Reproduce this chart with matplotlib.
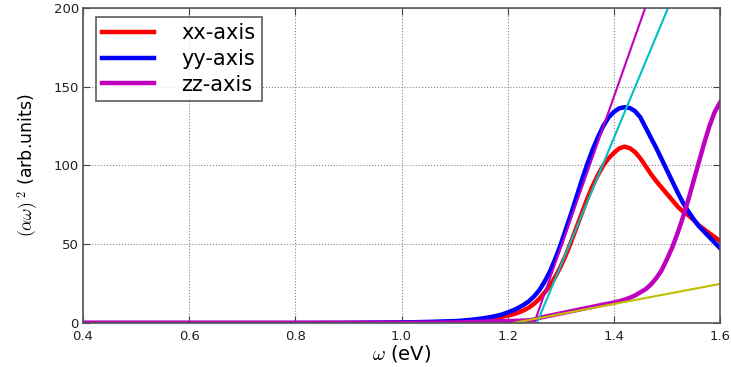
import matplotlib
matplotlib.use('Agg')
import matplotlib.pyplot as plt

plt.rcParams['mathtext.fontset'] = 'cm'

# photon energy grid (eV): coarse in the flat part, 0.01 eV steps from 1.10 to 1.60
energy = [0.4, 0.6, 0.8, 0.9, 1.0, 1.05] + [round(1.10 + 0.01 * i, 2) for i in range(51)]

# (alpha*omega)^2 for each polarization
xx = [0, 0, 0, 0.05, 0.2, 0.4,
      0.7, 0.9, 1.1, 1.3, 1.6, 2.0, 2.4, 2.9, 3.4, 4.0,
      4.7, 5.5, 6.6, 8.0, 9.8, 12.3, 15.5, 19.5, 24, 29.5,
      36, 43.5, 52, 61, 70, 79, 87, 94, 100, 104.5,
      108, 110.8, 112, 111, 108.5, 104.5, 99.5, 94.5, 90, 86,
      82, 78, 74, 70.8, 68.5, 65.5, 62, 59.5, 57, 54.5,
      52]
yy = [0, 0, 0, 0.1, 0.35, 0.7,
      1.2, 1.4, 1.7, 2.0, 2.4, 2.8, 3.3, 3.9, 4.6, 5.5,
      6.7, 8.0, 9.6, 11.5, 13.8, 17, 21, 26.5, 33, 41,
      50, 60, 70, 80.5, 91, 101, 110, 118, 125, 130.5,
      134, 136.3, 137, 136.5, 134.5, 130.5, 124, 117.5, 111, 104,
      97, 90, 83, 76.5, 71, 66, 61.5, 58, 54.5, 51,
      47.5]
zz = [0, 0, 0, 0, 0.1, 0.2,
      0.3, 0.4, 0.5, 0.6, 0.7, 0.8, 0.9, 1.0, 1.1, 1.15,
      1.2, 1.3, 1.4, 1.55, 1.7, 2.2, 3.3, 4.0, 4.7, 5.4,
      6.1, 6.8, 7.5, 8.2, 8.9, 9.6, 10.3, 11.0, 11.7, 12.3,
      13.0, 13.8, 14.8, 16.0, 17.5, 19.5, 21.5, 24.5, 28.5, 33.5,
      40.5, 48, 57, 67, 78, 90, 102, 114, 125, 134,
      140]

fit_m_x = [1.25, 1.459]
fit_m_y = [0, 200]
fit_c_x = [1.255, 1.502]
fit_c_y = [0, 200]
fit_y_x = [1.21, 1.60]
fit_y_y = [0, 24.8]

fig = plt.figure(figsize=(7.31, 3.67), dpi=100)
ax = fig.add_axes([0.1135, 0.1199, 0.8715, 0.8583])

ax.plot(energy, xx, color='r', lw=3.2, label='xx-axis')
ax.plot(energy, yy, color='b', lw=3.2, label='yy-axis')
ax.plot(energy, zz, color='m', lw=3.2, label='zz-axis')
ax.plot(fit_m_x, fit_m_y, color='m', lw=1.5)
ax.plot(fit_c_x, fit_c_y, color='c', lw=1.5)
ax.plot(fit_y_x, fit_y_y, color='y', lw=1.5)

ax.set_xlim(0.4, 1.6)
ax.set_ylim(0, 200)
ax.set_xticks([0.4, 0.6, 0.8, 1.0, 1.2, 1.4, 1.6])
ax.set_yticks([0, 50, 100, 150, 200])
ax.tick_params(direction='in', top=True, right=True, labelsize=9.5,
               labelcolor='#222', color='#444', length=5)
ax.tick_params(axis='x', pad=5)
ax.tick_params(axis='y', pad=3)
ax.grid(True, color='#888', linestyle=':', lw=0.8)
for spine in ax.spines.values():
    spine.set_color('#555')
    spine.set_linewidth(1.2)

ax.set_xlabel(r'$\omega$ (eV)', fontsize=14, labelpad=0)
ax.set_ylabel(r'$(\alpha\omega)^{\ 2}$ (arb.units)', fontsize=12.5, labelpad=10)

leg = ax.legend(loc='upper left', bbox_to_anchor=(0.02, 0.972), borderaxespad=0,
                fontsize=15, fancybox=False, handlelength=2.5, handletextpad=1.3,
                labelspacing=0.28, borderpad=0.3)
leg.get_frame().set_edgecolor('#333')
leg.get_frame().set_linewidth(1.2)

fig.savefig('out.png', dpi=100)
